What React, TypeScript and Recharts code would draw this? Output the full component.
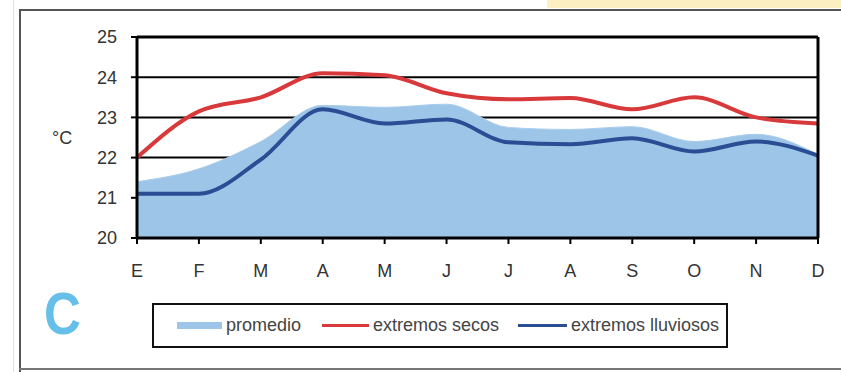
import {
  ComposedChart,
  Area,
  Line,
  XAxis,
  YAxis,
  CartesianGrid,
  ReferenceLine,
} from "recharts";

const months = ["E", "F", "M", "A", "M", "J", "J", "A", "S", "O", "N", "D"];
const promedio = [21.4, 21.72, 22.4, 23.3, 23.25, 23.33, 22.75, 22.7, 22.77, 22.4, 22.58, 22.08];
const secos = [22.0, 23.15, 23.5, 24.1, 24.05, 23.6, 23.45, 23.48, 23.2, 23.5, 23.0, 22.85];
const lluviosos = [21.1, 21.1, 21.95, 23.2, 22.85, 22.95, 22.38, 22.33, 22.48, 22.15, 22.4, 22.05];
const yTicks = [20, 21, 22, 23, 24, 25];

const FONT = "'Liberation Sans', Arial, sans-serif";

// indice como clave, los meses se repiten (M, J, A)
const data = months.map((m, i) => ({
  idx: i,
  month: m,
  promedio: promedio[i],
  secos: secos[i],
  lluviosos: lluviosos[i],
}));

const legendItems = [
  { label: "promedio", color: "#9cc5e8", thick: 7, x: 23, w: 45 },
  { label: "extremos secos", color: "#d83a3c", thick: 3, x: 168, w: 47 },
  { label: "extremos lluviosos", color: "#2b4d94", thick: 3, x: 364, w: 49 },
];

export default function App() {
  return (
    <div
      style={{
        position: "absolute",
        left: 0,
        top: 0,
        width: 841,
        height: 372,
        background: "#fff",
        overflow: "hidden",
        fontFamily: FONT,
      }}
    >
      {/* marco de la pagina */}
      <div style={{ position: "absolute", left: 547, top: 0, width: 294, height: 8, background: "#fcefc2" }} />
      <div style={{ position: "absolute", left: 13, top: 0, width: 1, height: 372, background: "#e2e2e2" }} />
      <div style={{ position: "absolute", left: 19, top: 9, width: 822, height: 2, background: "#555" }} />
      <div style={{ position: "absolute", left: 19, top: 9, width: 2, height: 363, background: "#555" }} />
      <div style={{ position: "absolute", left: 19, top: 368, width: 822, height: 2, background: "#777" }} />

      <div style={{ position: "absolute", left: 0, top: 0 }}>
        <ComposedChart
          width={841}
          height={372}
          data={data}
          margin={{ top: 37, right: 23, bottom: 104, left: 0 }}
        >
          <CartesianGrid vertical={false} stroke="#000" strokeWidth={2} />
          <XAxis
            dataKey="idx"
            type="category"
            height={30}
            tickFormatter={(v: number) => months[v]}
            axisLine={{ stroke: "#000", strokeWidth: 3 }}
            tickLine={{ stroke: "#000", strokeWidth: 2 }}
            tickSize={6}
            tickMargin={20}
            tick={{ fill: "#333", fontSize: 18, fontFamily: FONT }}
          />
          <YAxis
            domain={[20, 25]}
            ticks={yTicks}
            width={137}
            axisLine={{ stroke: "#000", strokeWidth: 3 }}
            tickLine={{ stroke: "#000", strokeWidth: 2 }}
            tickSize={6}
            tickMargin={14}
            tick={{ fill: "#333", fontSize: 18, fontFamily: FONT }}
            label={{
              value: "°C",
              position: "insideLeft",
              offset: 52,
              fill: "#333",
              fontSize: 18,
              fontFamily: FONT,
            }}
          />
          <Area
            dataKey="promedio"
            type="monotone"
            fill="#9cc5e8"
            fillOpacity={1}
            stroke="#a9cdec"
            strokeWidth={1}
            isAnimationActive={false}
          />
          <Line
            dataKey="secos"
            type="monotone"
            stroke="#d83a3c"
            strokeWidth={4}
            dot={false}
            isAnimationActive={false}
          />
          <Line
            dataKey="lluviosos"
            type="monotone"
            stroke="#2b4d94"
            strokeWidth={4}
            dot={false}
            isAnimationActive={false}
          />
          <ReferenceLine x={11} stroke="#000" strokeWidth={3} />
          <ReferenceLine y={25} stroke="#000" strokeWidth={3} />
        </ComposedChart>
      </div>

      <div
        style={{
          position: "absolute",
          left: 44,
          top: 274,
          fontSize: 60,
          fontWeight: "bold",
          color: "#66bfe8",
          lineHeight: "80px",
          transform: "scaleX(0.85)",
          transformOrigin: "left center",
        }}
      >
        C
      </div>

      <div
        style={{
          position: "absolute",
          left: 152,
          top: 303,
          width: 576,
          height: 45,
          border: "2px solid #111",
          boxSizing: "border-box",
        }}
      >
        {legendItems.map((it) => (
          <div
            key={it.label}
            style={{
              position: "absolute",
              left: it.x,
              top: 0,
              height: 41,
              display: "flex",
              alignItems: "center",
            }}
          >
            <div style={{ width: it.w, height: it.thick, background: it.color, marginRight: 4 }} />
            <span style={{ fontSize: 18, color: "#444", whiteSpace: "nowrap" }}>{it.label}</span>
          </div>
        ))}
      </div>
    </div>
  );
}
